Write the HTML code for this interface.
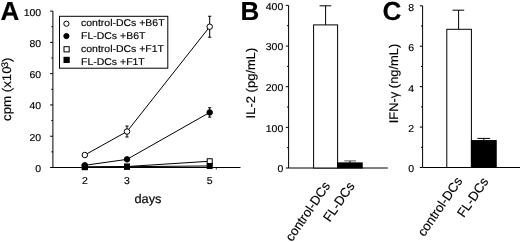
<!DOCTYPE html>
<html><head><meta charset="utf-8"><style>
html,body{margin:0;padding:0;background:#fff;}
svg{filter:grayscale(100%);}
svg{display:block;font-family:"Liberation Sans", sans-serif;text-rendering:geometricPrecision;}
svg text{font-family:"Liberation Sans", sans-serif;fill:#000;stroke:#000;stroke-width:0.15px;}
</style></head><body>
<svg width="520" height="242" viewBox="0 0 520 242">
<rect x="0" y="0" width="520" height="242" fill="#fff"/>
<line x1="52.90" y1="11.10" x2="52.90" y2="167.50" stroke="#000" stroke-width="1.0"/>
<line x1="51.70" y1="167.50" x2="240.50" y2="167.50" stroke="#000" stroke-width="1.0"/>
<line x1="50.10" y1="167.50" x2="52.90" y2="167.50" stroke="#000" stroke-width="1.0"/>
<text transform="translate(41.20,171.90) scale(1.05,1)" font-size="10.0" text-anchor="end" font-weight="normal" >0</text>
<line x1="50.10" y1="136.22" x2="52.90" y2="136.22" stroke="#000" stroke-width="1.0"/>
<text transform="translate(41.20,140.62) scale(1.05,1)" font-size="10.0" text-anchor="end" font-weight="normal" >20</text>
<line x1="50.10" y1="104.94" x2="52.90" y2="104.94" stroke="#000" stroke-width="1.0"/>
<text transform="translate(41.20,109.34) scale(1.05,1)" font-size="10.0" text-anchor="end" font-weight="normal" >40</text>
<line x1="50.10" y1="73.66" x2="52.90" y2="73.66" stroke="#000" stroke-width="1.0"/>
<text transform="translate(41.20,78.06) scale(1.05,1)" font-size="10.0" text-anchor="end" font-weight="normal" >60</text>
<line x1="50.10" y1="42.38" x2="52.90" y2="42.38" stroke="#000" stroke-width="1.0"/>
<text transform="translate(41.20,46.78) scale(1.05,1)" font-size="10.0" text-anchor="end" font-weight="normal" >80</text>
<line x1="50.10" y1="11.10" x2="52.90" y2="11.10" stroke="#000" stroke-width="1.0"/>
<text transform="translate(41.20,15.50) scale(1.05,1)" font-size="10.0" text-anchor="end" font-weight="normal" >100</text>
<line x1="51.30" y1="151.86" x2="52.90" y2="151.86" stroke="#000" stroke-width="1.0"/>
<line x1="51.30" y1="120.58" x2="52.90" y2="120.58" stroke="#000" stroke-width="1.0"/>
<line x1="51.30" y1="89.30" x2="52.90" y2="89.30" stroke="#000" stroke-width="1.0"/>
<line x1="51.30" y1="58.02" x2="52.90" y2="58.02" stroke="#000" stroke-width="1.0"/>
<line x1="51.30" y1="26.74" x2="52.90" y2="26.74" stroke="#000" stroke-width="1.0"/>
<line x1="216.30" y1="167.50" x2="216.30" y2="169.50" stroke="#000" stroke-width="0.8"/>
<text transform="translate(84.80,184.20) scale(1.05,1)" font-size="10.0" text-anchor="middle" font-weight="normal" >2</text>
<text transform="translate(127.00,184.20) scale(1.05,1)" font-size="10.0" text-anchor="middle" font-weight="normal" >3</text>
<text transform="translate(209.70,184.20) scale(1.05,1)" font-size="10.0" text-anchor="middle" font-weight="normal" >5</text>
<text transform="translate(148,202.8) scale(1.02,1)" font-size="12.5" text-anchor="middle">days</text>
<text transform="translate(11.4,89.2) rotate(-90) scale(1.06,1)" font-size="12.5" text-anchor="middle">cpm (x10<tspan font-size="9.5" dx="-1" dy="-3.2">3</tspan><tspan dy="3.2">)</tspan></text>
<text x="0.50" y="20.00" font-size="26" text-anchor="start" font-weight="bold" >A</text>
<polyline fill="none" stroke="#000" stroke-width="1" points="84.80,166.87 127.00,166.56 209.70,161.24"/>
<rect x="82.30" y="164.37" width="5" height="5" fill="#fff" stroke="#000" stroke-width="1"/>
<rect x="124.50" y="164.06" width="5" height="5" fill="#fff" stroke="#000" stroke-width="1"/>
<rect x="207.20" y="158.74" width="5" height="5" fill="#fff" stroke="#000" stroke-width="1"/>
<polyline fill="none" stroke="#000" stroke-width="1" points="84.80,167.19 127.00,166.72 209.70,165.94"/>
<rect x="82.30" y="164.69" width="5" height="5" fill="#000" stroke="#000" stroke-width="1"/>
<rect x="124.50" y="164.22" width="5" height="5" fill="#000" stroke="#000" stroke-width="1"/>
<rect x="207.20" y="163.44" width="5" height="5" fill="#000" stroke="#000" stroke-width="1"/>
<polyline fill="none" stroke="#000" stroke-width="1" points="84.80,165.31 127.00,159.37 209.70,112.45"/>
<line x1="209.70" y1="107.76" x2="209.70" y2="117.14" stroke="#000" stroke-width="1"/>
<line x1="208.10" y1="107.76" x2="211.30" y2="107.76" stroke="#000" stroke-width="1"/>
<line x1="208.10" y1="117.14" x2="211.30" y2="117.14" stroke="#000" stroke-width="1"/>
<circle cx="84.80" cy="165.31" r="2.75" fill="#000" stroke="#000" stroke-width="1"/>
<circle cx="127.00" cy="159.37" r="2.75" fill="#000" stroke="#000" stroke-width="1"/>
<circle cx="209.70" cy="112.45" r="2.75" fill="#000" stroke="#000" stroke-width="1"/>
<polyline fill="none" stroke="#000" stroke-width="1" points="84.80,154.99 127.00,131.53 209.70,26.74"/>
<line x1="127.00" y1="126.05" x2="127.00" y2="137.00" stroke="#000" stroke-width="1"/>
<line x1="125.40" y1="126.05" x2="128.60" y2="126.05" stroke="#000" stroke-width="1"/>
<line x1="125.40" y1="137.00" x2="128.60" y2="137.00" stroke="#000" stroke-width="1"/>
<line x1="209.70" y1="16.26" x2="209.70" y2="37.22" stroke="#000" stroke-width="1"/>
<line x1="208.10" y1="16.26" x2="211.30" y2="16.26" stroke="#000" stroke-width="1"/>
<line x1="208.10" y1="37.22" x2="211.30" y2="37.22" stroke="#000" stroke-width="1"/>
<circle cx="84.80" cy="154.99" r="2.75" fill="#fff" stroke="#000" stroke-width="1"/>
<circle cx="127.00" cy="131.53" r="2.75" fill="#fff" stroke="#000" stroke-width="1"/>
<circle cx="209.70" cy="26.74" r="2.75" fill="#fff" stroke="#000" stroke-width="1"/>
<rect x="59.50" y="16.30" width="108.30" height="51.90" fill="none" stroke="#000" stroke-width="1"/>
<circle cx="66.4" cy="23.70" r="2.6" fill="#fff" stroke="#000" stroke-width="1"/>
<text transform="translate(81.00,25.70) scale(1.07,1)" font-size="9.8" text-anchor="start" font-weight="normal" >control-DCs +B6T</text>
<circle cx="66.4" cy="36.10" r="2.6" fill="#000" stroke="#000" stroke-width="1"/>
<text transform="translate(81.00,38.70) scale(1.07,1)" font-size="9.8" text-anchor="start" font-weight="normal" >FL-DCs +B6T</text>
<rect x="64.0" y="46.70" width="5.2" height="5.2" fill="#fff" stroke="#000" stroke-width="1"/>
<text transform="translate(81.00,51.70) scale(1.07,1)" font-size="9.8" text-anchor="start" font-weight="normal" >control-DCs +F1T</text>
<rect x="64.0" y="57.30" width="5.2" height="5.2" fill="#000" stroke="#000" stroke-width="1"/>
<text transform="translate(81.00,64.60) scale(1.07,1)" font-size="9.8" text-anchor="start" font-weight="normal" >FL-DCs +F1T</text>
<line x1="288.60" y1="5.40" x2="288.60" y2="168.00" stroke="#000" stroke-width="1.0"/>
<line x1="288.60" y1="168.00" x2="387.80" y2="168.00" stroke="#000" stroke-width="1.0"/>
<line x1="285.80" y1="168.00" x2="288.60" y2="168.00" stroke="#000" stroke-width="1.0"/>
<text transform="translate(283.30,172.20) scale(1.05,1)" font-size="10.0" text-anchor="end" font-weight="normal" >0</text>
<line x1="285.80" y1="127.35" x2="288.60" y2="127.35" stroke="#000" stroke-width="1.0"/>
<text transform="translate(283.30,131.55) scale(1.05,1)" font-size="10.0" text-anchor="end" font-weight="normal" >100</text>
<line x1="285.80" y1="86.70" x2="288.60" y2="86.70" stroke="#000" stroke-width="1.0"/>
<text transform="translate(283.30,90.90) scale(1.05,1)" font-size="10.0" text-anchor="end" font-weight="normal" >200</text>
<line x1="285.80" y1="46.05" x2="288.60" y2="46.05" stroke="#000" stroke-width="1.0"/>
<text transform="translate(283.30,50.25) scale(1.05,1)" font-size="10.0" text-anchor="end" font-weight="normal" >300</text>
<line x1="285.80" y1="5.40" x2="288.60" y2="5.40" stroke="#000" stroke-width="1.0"/>
<text transform="translate(283.30,9.60) scale(1.05,1)" font-size="10.0" text-anchor="end" font-weight="normal" >400</text>
<line x1="287.00" y1="147.68" x2="288.60" y2="147.68" stroke="#000" stroke-width="1.0"/>
<line x1="287.00" y1="107.03" x2="288.60" y2="107.03" stroke="#000" stroke-width="1.0"/>
<line x1="287.00" y1="66.38" x2="288.60" y2="66.38" stroke="#000" stroke-width="1.0"/>
<line x1="287.00" y1="25.73" x2="288.60" y2="25.73" stroke="#000" stroke-width="1.0"/>
<rect x="313.60" y="24.90" width="24.00" height="143.10" fill="#fff" stroke="#000" stroke-width="1"/>
<line x1="325.60" y1="24.90" x2="325.60" y2="5.80" stroke="#000" stroke-width="1"/>
<line x1="319.60" y1="5.80" x2="331.20" y2="5.80" stroke="#000" stroke-width="1"/>
<rect x="337.60" y="162.90" width="24.60" height="5.10" fill="#000" stroke="#000" stroke-width="1"/>
<line x1="350.00" y1="162.90" x2="350.00" y2="160.90" stroke="#000" stroke-width="1"/>
<line x1="344.30" y1="160.90" x2="356.10" y2="160.90" stroke="#333" stroke-width="0.8"/>
<text transform="translate(254.5,83) rotate(-90) scale(1.04,1)" font-size="12.5" text-anchor="middle">IL-2 (pg/mL)</text>
<text x="240.50" y="20.00" font-size="26" text-anchor="start" font-weight="bold" >B</text>
<text transform="translate(330.8,185.6) rotate(-55.5)" font-size="13" text-anchor="end">control-DCs</text>
<text transform="translate(355.1,185.8) rotate(-55.5)" font-size="13" text-anchor="end">FL-DCs</text>
<line x1="422.60" y1="5.80" x2="422.60" y2="167.50" stroke="#000" stroke-width="1.0"/>
<line x1="422.60" y1="167.50" x2="520.00" y2="167.50" stroke="#000" stroke-width="1.0"/>
<line x1="419.80" y1="167.50" x2="422.60" y2="167.50" stroke="#000" stroke-width="1.0"/>
<text transform="translate(414.20,172.40) scale(1.05,1)" font-size="10.0" text-anchor="end" font-weight="normal" >0</text>
<line x1="419.80" y1="127.08" x2="422.60" y2="127.08" stroke="#000" stroke-width="1.0"/>
<text transform="translate(414.20,131.97) scale(1.05,1)" font-size="10.0" text-anchor="end" font-weight="normal" >2</text>
<line x1="419.80" y1="86.65" x2="422.60" y2="86.65" stroke="#000" stroke-width="1.0"/>
<text transform="translate(414.20,91.55) scale(1.05,1)" font-size="10.0" text-anchor="end" font-weight="normal" >4</text>
<line x1="419.80" y1="46.23" x2="422.60" y2="46.23" stroke="#000" stroke-width="1.0"/>
<text transform="translate(414.20,51.13) scale(1.05,1)" font-size="10.0" text-anchor="end" font-weight="normal" >6</text>
<line x1="419.80" y1="5.80" x2="422.60" y2="5.80" stroke="#000" stroke-width="1.0"/>
<text transform="translate(414.20,11.40) scale(1.05,1)" font-size="10.0" text-anchor="end" font-weight="normal" >8</text>
<line x1="421.00" y1="147.29" x2="422.60" y2="147.29" stroke="#000" stroke-width="1.0"/>
<line x1="421.00" y1="106.86" x2="422.60" y2="106.86" stroke="#000" stroke-width="1.0"/>
<line x1="421.00" y1="66.44" x2="422.60" y2="66.44" stroke="#000" stroke-width="1.0"/>
<line x1="421.00" y1="26.01" x2="422.60" y2="26.01" stroke="#000" stroke-width="1.0"/>
<rect x="446.80" y="29.30" width="24.60" height="138.20" fill="#fff" stroke="#000" stroke-width="1"/>
<line x1="458.60" y1="29.30" x2="458.60" y2="10.20" stroke="#000" stroke-width="1"/>
<line x1="452.50" y1="10.20" x2="464.20" y2="10.20" stroke="#000" stroke-width="1"/>
<rect x="471.40" y="140.60" width="24.80" height="26.90" fill="#000" stroke="#000" stroke-width="1"/>
<line x1="483.80" y1="140.60" x2="483.80" y2="138.40" stroke="#000" stroke-width="1"/>
<line x1="477.40" y1="138.40" x2="490.20" y2="138.40" stroke="#000" stroke-width="1"/>
<text transform="translate(397.6,83.5) rotate(-90) scale(1.03,1)" font-size="12.5" text-anchor="middle">IFN-&#947; (ng/mL)</text>
<text x="382.50" y="20.30" font-size="26" text-anchor="start" font-weight="bold" >C</text>
<text transform="translate(463.0,180.8) rotate(-55.5)" font-size="13" text-anchor="end">control-DCs</text>
<text transform="translate(489.0,181.4) rotate(-55.5)" font-size="13" text-anchor="end">FL-DCs</text>
</svg>
</body></html>
